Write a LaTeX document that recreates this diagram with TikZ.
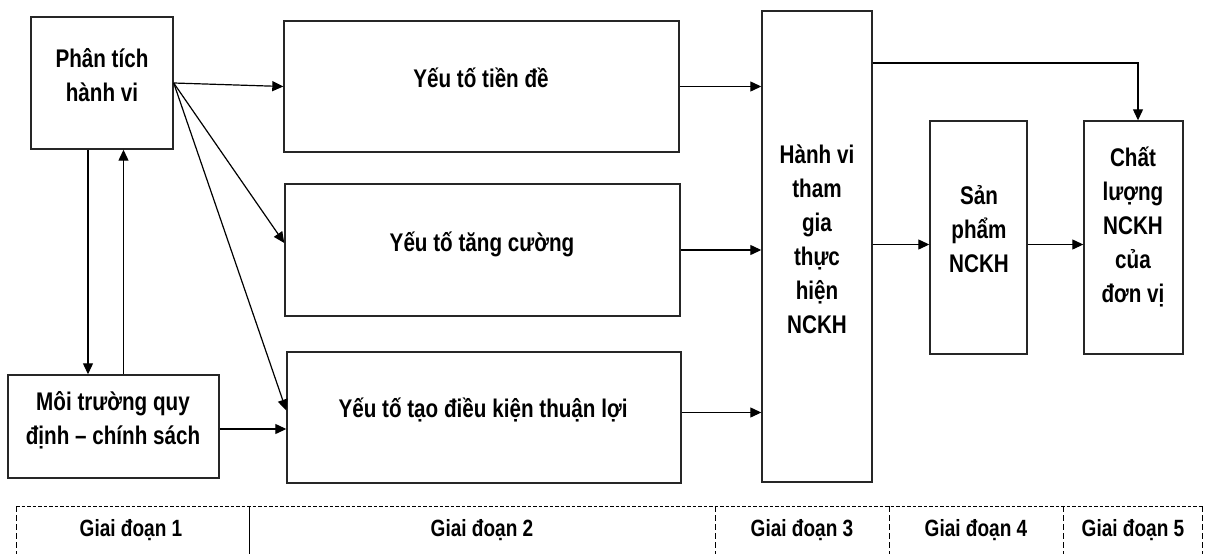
\documentclass[tikz,border=0pt]{standalone}
\usepackage{fontspec}
\setmainfont{Liberation Sans}[FakeStretch=0.81]
\usetikzlibrary{arrows.meta,calc}
\begin{document}
\begin{tikzpicture}[x=1pt,y=-1pt,
  box/.style={draw=black!85, line width=1.4pt, rectangle, inner sep=0pt},
  txt/.style={font=\bfseries\fontsize{25.5}{34}\selectfont, align=center, inner sep=0pt},
  one/.style={font=\bfseries\fontsize{25.5}{34}\selectfont, inner sep=0pt, text height=18.5pt, text depth=0pt},
  stage/.style={font=\bfseries\fontsize{23.5}{28}\selectfont, inner sep=0pt, text height=17pt, text depth=0pt},
  arr/.style={line width=1.2pt, -{Triangle[length=11pt,width=10pt]}},
  dsh/.style={line width=1pt, dash pattern=on 3.5pt off 2pt},
  vdsh/.style={line width=1pt, dash pattern=on 6pt off 3pt}]
\useasboundingbox (0,0) rectangle (1209,554);

% boxes
\node[box, minimum width=142pt, minimum height=132pt] (A) at (102,83) {};
\node[box, minimum width=211pt, minimum height=103pt] (B) at (113.5,426.5) {};
\node[box, minimum width=395pt, minimum height=131pt] (C) at (481.5,86.5) {};
\node[box, minimum width=395pt, minimum height=132pt] (D) at (482.5,250) {};
\node[box, minimum width=394pt, minimum height=131pt] (E) at (484,417.5) {};
\node[box, minimum width=110pt, minimum height=471pt] (F) at (817,246.5) {};
\node[box, minimum width=97pt, minimum height=233pt] (G) at (978.5,237.5) {};
\node[box, minimum width=99pt, minimum height=233pt] (H) at (1133.5,237.5) {};

% texts
\node[txt] (tA) at (102,75) {Phân tích\\hành vi};
\node[txt] (tB) at (113,420) {Môi trường quy\\định – chính sách};
\node[one] (tC) at (481,78) {Yếu tố tiền đề};
\node[one] (tD) at (482,242) {Yếu tố tăng cường};
\node[one] (tE) at (483,408) {Yếu tố tạo điều kiện thuận lợi};
\node[txt] (tF) at (817,239) {Hành vi\\tham\\gia\\thực\\hiện\\NCKH};
\node[txt] (tG) at (979,229) {Sản\\phẩm\\NCKH};
\node[txt] (tH) at (1133,227) {Chất\\lượng\\NCKH\\của\\đơn vị};

% connectors
\draw[arr] (A.east) -- (C.west);
\draw[arr] (A.east) -- ([yshift=7pt]D.west);
\draw[arr] (A.east) -- ([yshift=7pt]E.west);
\draw[arr] ([xshift=-14pt]A.south) -- ([xshift=-14pt]A.south |- B.north);
\draw[arr] ([xshift=10pt]B.north) -- ([xshift=10pt]B.north |- A.south);
\draw[arr] ([yshift=-2.5pt]B.east) -- ([yshift=-2.5pt]B.east -| E.west);
\draw[arr] (C.east) -- (C.east -| F.west);
\draw[arr] (D.east) -- (D.east -| F.west);
\draw[arr] ([yshift=5pt]E.east) -- ([yshift=5pt]E.east -| F.west);
\draw[arr] ([yshift=183.5pt]F.east) -| ([xshift=4.5pt]H.north);
\draw[arr] ([yshift=2pt]F.east) -- ([yshift=2pt]F.east -| G.west);
\draw[arr] ([yshift=-7pt]G.east) -- ([yshift=-7pt]G.east -| H.west);

% stage frame
\draw[dsh] (16,506) -- (1202,506);
\draw[vdsh] (16,506) -- (16,554);
\draw[vdsh] (1202,506) -- (1202,554);
\draw[line width=1pt] (249,506) -- (249,554);
\draw[vdsh] (715,506) -- (715,554);
\draw[vdsh] (889,506) -- (889,554);
\draw[vdsh] (1063,506) -- (1063,554);

\node[stage] (s1) at (131,528) {Giai đoạn 1};
\node[stage] (s2) at (482,528) {Giai đoạn 2};
\node[stage] (s3) at (802,528) {Giai đoạn 3};
\node[stage] (s4) at (976,528) {Giai đoạn 4};
\node[stage] (s5) at (1133,528) {Giai đoạn 5};
\end{tikzpicture}
\end{document}
